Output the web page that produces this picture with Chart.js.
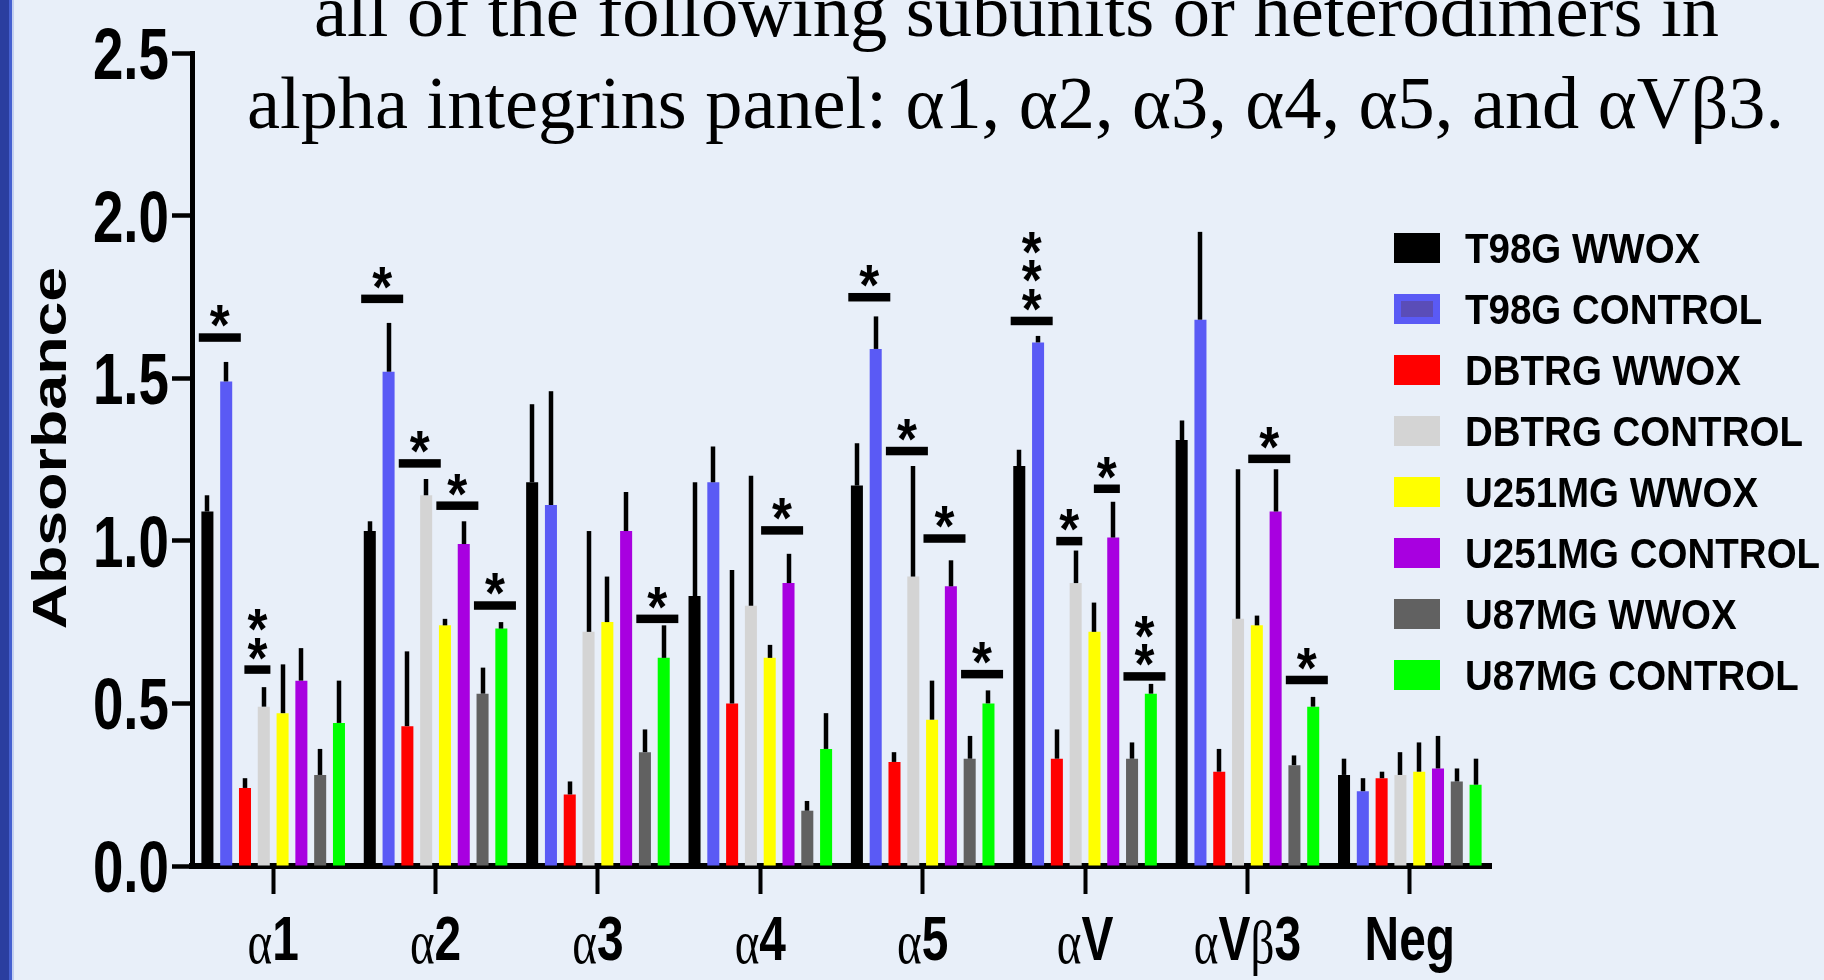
<!DOCTYPE html>
<html>
<head>
<meta charset="utf-8">
<script src="https://cdn.jsdelivr.net/npm/chart.js@4.4.1/dist/chart.umd.min.js"></script>
<style>
  html, body { margin: 0; padding: 0; background: #e8eff9; overflow: hidden; }
  #wrap { position: relative; width: 1824px; height: 980px; }
</style>
</head>
<body>
<div id="wrap"><canvas id="chart"></canvas></div>
<script>
const categories = ['α1', 'α2', 'α3', 'α4', 'α5', 'αV', 'αVβ3', 'Neg'];
const seriesNames = ['T98G WWOX', 'T98G CONTROL', 'DBTRG WWOX', 'DBTRG CONTROL',
                     'U251MG WWOX', 'U251MG CONTROL', 'U87MG WWOX', 'U87MG CONTROL'];

// mean absorbance, one value per category
const t98gWwox     = [1.09, 1.03, 1.18, 0.83, 1.17, 1.23, 1.31, 0.28];
const t98gControl  = [1.49, 1.52, 1.11, 1.18, 1.59, 1.61, 1.68, 0.23];
const dbtrgWwox    = [0.24, 0.43, 0.22, 0.50, 0.32, 0.33, 0.29, 0.27];
const dbtrgControl = [0.49, 1.14, 0.72, 0.80, 0.89, 0.87, 0.76, 0.28];
const u251Wwox     = [0.47, 0.74, 0.75, 0.64, 0.45, 0.72, 0.74, 0.29];
const u251Control  = [0.57, 0.99, 1.03, 0.87, 0.86, 1.01, 1.09, 0.30];
const u87Wwox      = [0.28, 0.53, 0.35, 0.17, 0.33, 0.33, 0.31, 0.26];
const u87Control   = [0.44, 0.73, 0.64, 0.36, 0.50, 0.53, 0.49, 0.25];

// upper error bars
const t98gWwoxErr     = [0.05, 0.03, 0.24, 0.35, 0.13, 0.05, 0.06, 0.05];
const t98gControlErr  = [0.06, 0.15, 0.35, 0.11, 0.10, 0.02, 0.27, 0.04];
const dbtrgWwoxErr    = [0.03, 0.23, 0.04, 0.41, 0.03, 0.09, 0.07, 0.02];
const dbtrgControlErr = [0.06, 0.05, 0.31, 0.40, 0.34, 0.10, 0.46, 0.07];
const u251WwoxErr     = [0.15, 0.02, 0.14, 0.04, 0.12, 0.09, 0.03, 0.09];
const u251ControlErr  = [0.10, 0.07, 0.12, 0.09, 0.08, 0.11, 0.13, 0.10];
const u87WwoxErr      = [0.08, 0.08, 0.07, 0.03, 0.07, 0.05, 0.03, 0.04];
const u87ControlErr   = [0.13, 0.02, 0.10, 0.11, 0.04, 0.03, 0.03, 0.08];

const yTicks = [0, 0.5, 1.0, 1.5, 2.0, 2.5];

// significance marks: category, WWOX/CONTROL pair (0..3), bar level, stars
const sigGroup = [0, 0, 1, 1, 1, 1, 2, 3, 4, 4, 4, 4, 5, 5, 5, 5, 6, 6];
const sigPair  = [0, 1, 0, 1, 2, 3, 3, 2, 0, 1, 2, 3, 0, 1, 2, 3, 2, 3];
const sigLevel = [1.625, 0.604, 1.744, 1.238, 1.108, 0.801, 0.760, 1.032,
                  1.749, 1.276, 1.007, 0.590, 1.676, 0.999, 1.160, 0.583, 1.252, 0.572];
const sigStars = ['*', '**', '*', '*', '*', '*', '*', '*', '*', '*', '*', '*',
                  '***', '*', '*', '**', '*', '*'];

const titleLines = ['all of the following subunits or heterodimers in',
                    'alpha integrins panel: α1, α2, α3, α4, α5, and αVβ3.'];

const means = [t98gWwox, t98gControl, dbtrgWwox, dbtrgControl, u251Wwox, u251Control, u87Wwox, u87Control];
const errs = [t98gWwoxErr, t98gControlErr, dbtrgWwoxErr, dbtrgControlErr, u251WwoxErr, u251ControlErr, u87WwoxErr, u87ControlErr];
const colors = ['#000000', '#5a5af5', '#ff0000', '#d4d4d4', '#ffff00', '#a800e0', '#616161', '#00ff00'];
const shortSig = [1, 13, 14];

const SANS = '"Liberation Sans", Arial, sans-serif';
const SERIF = '"Liberation Serif", "Times New Roman", serif';
const NARROW_X = 0.76; // horizontal squeeze for the condensed axis lettering

const backdrop = {
  id: 'backdrop',
  beforeDraw(chart) {
    const { ctx, width, height } = chart;
    ctx.save();
    ctx.fillStyle = '#e8eff9';
    ctx.fillRect(0, 0, width, height);
    ctx.fillStyle = '#2a3e9f';
    ctx.fillRect(0, 0, 9, height);
    ctx.fillStyle = '#4560d0';
    ctx.fillRect(9, 0, 3, height);
    ctx.fillStyle = '#c3cff0';
    ctx.fillRect(12, 0, 2, height);
    ctx.restore();
  }
};

// error bars and significance marks
const marks = {
  id: 'marks',
  afterDatasetsDraw(chart) {
    const { ctx } = chart;
    const y = chart.scales.y;
    ctx.save();
    ctx.strokeStyle = '#000';
    ctx.lineWidth = 4.5;
    means.forEach((vals, i) => {
      const meta = chart.getDatasetMeta(i);
      vals.forEach((v, j) => {
        const bar = meta.data[j];
        const x = Math.round(bar.x);
        ctx.beginPath();
        ctx.moveTo(x, y.getPixelForValue(v));
        ctx.lineTo(x, y.getPixelForValue(v + errs[i][j]));
        ctx.stroke();
      });
    });

    ctx.font = 'bold 100px ' + SANS;
    const m = ctx.measureText('*');
    const gw = m.actualBoundingBoxLeft + m.actualBoundingBoxRight;
    const gh = m.actualBoundingBoxAscent + m.actualBoundingBoxDescent;
    const sx = 20 / gw, sy = 22 / gh;

    ctx.fillStyle = '#000';
    sigGroup.forEach((g, k) => {
      const p = sigPair[k];
      const a = chart.getDatasetMeta(2 * p).data[g];
      const b = chart.getDatasetMeta(2 * p + 1).data[g];
      const cx = (a.x + b.x) / 2 + 3;
      const ly = y.getPixelForValue(sigLevel[k]);
      const w = shortSig.includes(k) ? 26 : 42;
      ctx.fillRect(cx - w / 2, ly - 4.25, w, 8.5);
      for (let s = 0; s < sigStars[k].length; s++) {
        const cy = ly - 21 - s * 28.5;
        ctx.save();
        ctx.translate(cx, cy);
        ctx.scale(sx, sy);
        ctx.font = 'bold 100px ' + SANS;
        ctx.textAlign = 'left';
        ctx.textBaseline = 'alphabetic';
        const ox = -(m.actualBoundingBoxRight - m.actualBoundingBoxLeft) / 2;
        const oy = (m.actualBoundingBoxAscent - m.actualBoundingBoxDescent) / 2;
        ctx.fillText('*', ox, oy);
        ctx.restore();
      }
    });
    ctx.restore();
  }
};

function stretchedText(ctx, text, x, y, targetW, font) {
  ctx.font = font;
  const w = ctx.measureText(text).width;
  ctx.save();
  ctx.translate(x, y);
  ctx.scale(targetW / w, 1);
  ctx.textAlign = 'left';
  ctx.textBaseline = 'alphabetic';
  ctx.fillText(text, 0, 0);
  ctx.restore();
}

const decorations = {
  id: 'decorations',
  afterDraw(chart) {
    const { ctx } = chart;
    const xs = chart.scales.x;
    const ys = chart.scales.y;
    ctx.save();
    ctx.fillStyle = '#000';

    // y tick labels, condensed bold
    const tickFont = 'bold 72px ' + SANS;
    yTicks.forEach(v => {
      const py = ys.getPixelForValue(v);
      ctx.save();
      ctx.translate(169, py + 26);
      ctx.scale(NARROW_X, 1);
      ctx.font = tickFont;
      ctx.textAlign = 'right';
      ctx.textBaseline = 'alphabetic';
      ctx.fillText(v.toFixed(1), 0, 0);
      ctx.restore();
    });

    // category labels: greek letters in serif, the rest bold condensed
    const greekFont = 'normal 62px ' + SERIF;
    const boldFont = 'bold 63px ' + SANS;
    categories.forEach((label, i) => {
      const parts = Array.from(label).map(ch => {
        const greek = /[α-ωΑ-Ω]/.test(ch);
        ctx.font = greek ? greekFont : boldFont;
        return { ch, greek, w: ctx.measureText(ch).width * NARROW_X };
      });
      const total = parts.reduce((s, p) => s + p.w, 0);
      let x = xs.getPixelForTick(i) - total / 2;
      parts.forEach(p => {
        ctx.save();
        ctx.translate(x, p.greek ? 963 : 960);
        ctx.scale(NARROW_X, 1);
        ctx.font = p.greek ? greekFont : boldFont;
        ctx.textAlign = 'left';
        ctx.textBaseline = 'alphabetic';
        ctx.fillText(p.ch, 0, 0);
        ctx.restore();
        x += p.w;
      });
    });

    // y axis title
    ctx.save();
    ctx.translate(66, 448);
    ctx.rotate(-Math.PI / 2);
    ctx.scale(1.28, 1);
    ctx.font = 'bold 49px ' + SANS;
    ctx.textAlign = 'center';
    ctx.textBaseline = 'alphabetic';
    ctx.fillText('Absorbance', 0, 0);
    ctx.restore();

    // slide text above the chart
    stretchedText(ctx, titleLines[0], 314, 36, 1405, 'normal 74px ' + SERIF);
    stretchedText(ctx, titleLines[1], 247, 128, 1537, 'normal 74px ' + SERIF);

    // legend
    seriesNames.forEach((name, i) => {
      const cy = 248 + i * 61;
      ctx.fillStyle = colors[i];
      ctx.fillRect(1394, cy - 15, 46, 30);
      if (i === 1) {
        ctx.fillStyle = '#5a4db8';
        ctx.fillRect(1401, cy - 8, 32, 16);
      }
      ctx.fillStyle = '#000';
      ctx.save();
      ctx.translate(1465, cy + 15);
      ctx.scale(1, 1.12);
      ctx.font = 'bold 38.5px ' + SANS;
      ctx.textAlign = 'left';
      ctx.textBaseline = 'alphabetic';
      ctx.fillText(name, 0, 0);
      ctx.restore();
    });
    ctx.restore();
  }
};

const datasets = seriesNames.map((name, i) => ({
  label: name,
  data: means[i],
  backgroundColor: colors[i],
  borderWidth: 0,
  barPercentage: 0.64,
  categoryPercentage: 0.926
}));

new Chart(document.getElementById('chart'), {
  type: 'bar',
  data: { labels: categories, datasets },
  plugins: [backdrop, marks, decorations],
  options: {
    responsive: true,
    maintainAspectRatio: false,
    devicePixelRatio: 1,
    animation: false,
    layout: { padding: { top: 53, right: 333, bottom: 0, left: 0 } },
    plugins: {
      legend: { display: false },
      tooltip: { enabled: false }
    },
    scales: {
      x: {
        offset: true,
        grid: {
          offset: false,
          drawOnChartArea: false,
          drawTicks: true,
          tickLength: 28,
          tickWidth: 4,
          tickColor: '#000'
        },
        border: { display: true, color: '#000', width: 6 },
        ticks: { display: false },
        afterFit(s) { s.height = 114; }
      },
      y: {
        min: 0,
        max: 2.5,
        afterBuildTicks(s) { s.ticks = yTicks.map(v => ({ value: v })); },
        grid: {
          drawOnChartArea: false,
          drawTicks: true,
          tickLength: 20,
          tickWidth: 4.5,
          tickColor: '#000'
        },
        border: { display: true, color: '#000', width: 5 },
        ticks: { display: false },
        afterFit(s) { s.width = 192; }
      }
    }
  }
});
</script>
</body>
</html>
